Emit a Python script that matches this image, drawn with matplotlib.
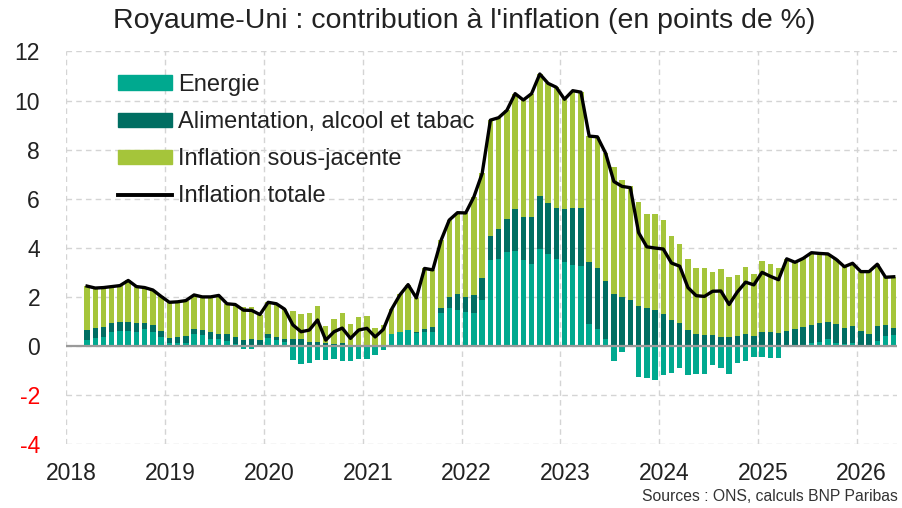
import numpy as np
import matplotlib.pyplot as plt
from matplotlib.patches import Patch
from matplotlib.lines import Line2D

plt.rcParams['font.family'] = ['Liberation Sans', 'DejaVu Sans']
plt.rcParams['axes.unicode_minus'] = False

# monthly data, March 2018 -> May 2026 (contributions, points de %)
start_month = 2  # months after Jan 2018
energie = [0.24, 0.31, 0.38, 0.58, 0.61, 0.61, 0.58, 0.68, 0.58, 0.38,
           0.11, 0.11, 0.14, 0.49, 0.45, 0.29, 0.29, 0.22, 0.10, -0.13,
           -0.13, 0.05, 0.31, 0.24, 0.18, -0.57, -0.73, -0.70, -0.57, -0.57,
           -0.54, -0.60, -0.60, -0.53, -0.52, -0.38, -0.16, 0.49, 0.58, 0.65,
           0.54, 0.58, 0.58, 1.33, 1.53, 1.47, 1.37, 1.36, 1.87, 3.50,
           3.53, 3.83, 3.87, 3.50, 3.34, 3.95, 3.75, 3.54, 3.44, 3.30,
           3.26, 0.90, 0.68, 0.27, -0.61, -0.26, -0.05, -1.25, -1.32, -1.39,
           -1.18, -1.11, -0.91, -1.18, -1.14, -1.14, -0.77, -0.91, -1.14, -0.71,
           -0.61, -0.43, -0.46, -0.48, -0.48, 0.00, -0.05, 0.02, 0.11, 0.15,
           0.29, 0.11, 0.07, 0.11, 0.02, -0.03, 0.20, 0.41, 0.43]
alimentation = [0.41, 0.41, 0.38, 0.37, 0.38, 0.38, 0.34, 0.24, 0.27, 0.23,
                0.22, 0.27, 0.27, 0.19, 0.20, 0.30, 0.20, 0.27, 0.27, 0.24,
                0.27, 0.20, 0.16, 0.14, 0.09, 0.27, 0.30, 0.18, 0.18, 0.11,
                0.08, 0.14, 0.03, 0.05, 0.05, 0.05, 0.02, 0.00, -0.05, 0.00,
                0.02, 0.12, 0.20, 0.20, 0.48, 0.64, 0.64, 0.72, 0.89, 0.98,
                1.22, 1.33, 1.70, 1.77, 1.93, 2.17, 2.06, 2.10, 2.14, 2.34,
                2.38, 2.54, 2.48, 2.39, 2.12, 2.01, 1.87, 1.63, 1.53, 1.47,
                1.30, 1.06, 0.92, 0.65, 0.49, 0.45, 0.45, 0.38, 0.38, 0.41,
                0.49, 0.41, 0.56, 0.58, 0.54, 0.61, 0.69, 0.75, 0.75, 0.80,
                0.69, 0.77, 0.68, 0.70, 0.58, 0.49, 0.61, 0.45, 0.32]
sous_jacente = [1.79, 1.64, 1.62, 1.47, 1.47, 1.68, 1.50, 1.46, 1.43, 1.41,
                1.45, 1.42, 1.44, 1.40, 1.35, 1.41, 1.57, 1.23, 1.32, 1.35,
                1.31, 1.03, 1.31, 1.34, 1.23, 1.16, 1.01, 1.17, 1.45, 0.70,
                1.04, 1.19, 0.88, 1.13, 1.19, 0.70, 0.82, 1.01, 1.55, 1.85,
                1.40, 2.46, 2.32, 2.77, 3.12, 3.32, 3.41, 4.00, 4.27, 4.72,
                4.55, 4.44, 4.71, 4.75, 5.01, 4.96, 4.89, 4.90, 4.47, 4.76,
                4.70, 5.11, 5.36, 5.19, 5.19, 4.75, 4.63, 4.24, 3.83, 3.91,
                3.83, 3.43, 3.24, 2.91, 2.70, 2.71, 2.55, 2.77, 2.45, 2.50,
                2.72, 2.51, 2.90, 2.74, 2.64, 2.94, 2.77, 2.80, 2.94, 2.82,
                2.77, 2.65, 2.48, 2.56, 2.43, 2.57, 2.52, 1.94, 2.07]
totale = [2.44, 2.36, 2.38, 2.42, 2.46, 2.67, 2.42, 2.38, 2.28, 2.02,
          1.78, 1.80, 1.85, 2.08, 2.00, 2.00, 2.06, 1.72, 1.69, 1.46,
          1.45, 1.28, 1.78, 1.72, 1.50, 0.86, 0.58, 0.65, 1.06, 0.24,
          0.58, 0.73, 0.31, 0.65, 0.72, 0.37, 0.68, 1.50, 2.08, 2.50,
          1.96, 3.16, 3.10, 4.30, 5.13, 5.43, 5.42, 6.08, 7.03, 9.20,
          9.30, 9.60, 10.28, 10.02, 10.28, 11.08, 10.70, 10.54, 10.05, 10.40,
          10.34, 8.55, 8.52, 7.85, 6.70, 6.50, 6.45, 4.62, 4.04, 3.99,
          3.95, 3.38, 3.25, 2.38, 2.05, 2.02, 2.23, 2.24, 1.69, 2.20,
          2.60, 2.49, 3.00, 2.84, 2.70, 3.55, 3.41, 3.57, 3.80, 3.77,
          3.75, 3.53, 3.23, 3.37, 3.03, 3.03, 3.33, 2.80, 2.82]
years = [2018, 2019, 2020, 2021, 2022, 2023, 2024, 2025, 2026]
labels = ['Energie', 'Alimentation, alcool et tabac', 'Inflation sous-jacente']
colors = ['#00A98F', '#006E62', '#A5C53A']

series = np.array([energie, alimentation, sous_jacente])
x = start_month + np.arange(series.shape[1]) + 0.5

fig = plt.figure(figsize=(9.02, 5.08), dpi=100)
ax = fig.add_axes([0.0737, 0.1256, 0.9208, 0.7732])

# stack positives upward, negatives downward
pos_base = np.zeros(series.shape[1])
neg_base = np.zeros(series.shape[1])
for vals, col in zip(series, colors):
    base = np.where(vals >= 0, pos_base, neg_base)
    ax.bar(x, vals, bottom=base, width=0.66, color=col, linewidth=0, zorder=2)
    pos_base = pos_base + np.clip(vals, 0, None)
    neg_base = neg_base + np.clip(vals, None, 0)

ax.plot(x, totale, color='black', lw=2.4, zorder=4)
ax.axhline(0, color='#9A9A9A', lw=1.6, zorder=3)

ax.set_xlim(0, 100.9)
ax.set_ylim(-4, 12)
ax.set_yticks(np.arange(-4, 13, 2))
year_pos = [(y - 2018) * 12 for y in years]
ax.set_xticks(year_pos)
ax.set_xticklabels([])
ax.set_xticks([p + 0.6 for p in year_pos], minor=True)
ax.set_xticklabels([str(y) for y in years], minor=True)
ax.tick_params(axis='x', which='both', length=0)
ax.tick_params(axis='x', which='minor', pad=13, labelsize=16.5, colors='#222222')
ax.tick_params(axis='y', length=0, pad=19, labelsize=16.5, colors='#222222')
for v, t in zip(ax.get_yticks(), ax.get_yticklabels()):
    if v < 0:
        t.set_color('red')

ax.grid(True, which='major', color='#D4D4D4', linestyle=(0, (4, 3)), lw=1, zorder=0)
for s in ax.spines.values():
    s.set_visible(False)

handles = [Patch(color=c) for c in colors]
handles.append(Line2D([], [], color='black', lw=2.8))
ax.legend(handles, labels + ['Inflation totale'], loc='upper left',
          bbox_to_anchor=(0.062, 0.943), frameon=False, fontsize=17,
          handlelength=2.3, handleheight=0.55, handletextpad=0.25,
          labelspacing=0.645, borderpad=0, borderaxespad=0,
          labelcolor='#222222')

fig.text(0.515, 0.958, "Royaume-Uni : contribution à l'inflation (en points de %)",
         ha='center', va='center', fontsize=20.5, color='#222222')
fig.text(0.995, 0.008, 'Sources : ONS, calculs BNP Paribas', ha='right',
         va='bottom', fontsize=11.3, color='#333333')

fig.savefig('out.png', dpi=100)
